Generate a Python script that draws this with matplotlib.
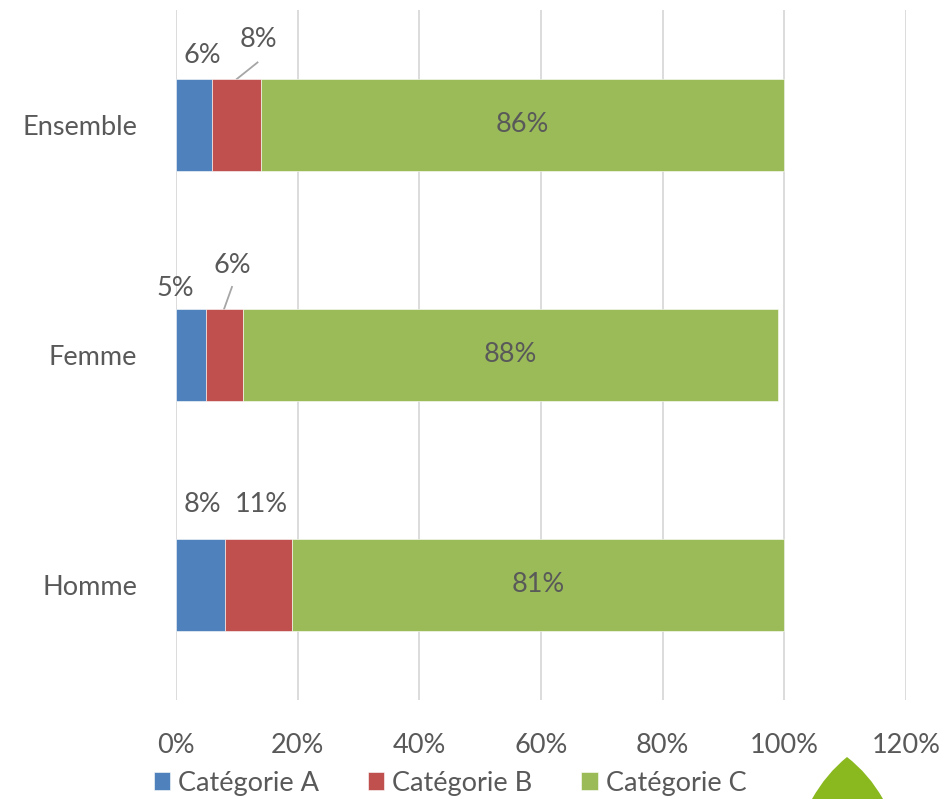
import matplotlib
matplotlib.use('Agg')
import matplotlib.pyplot as plt
import numpy as np
from matplotlib.patches import PathPatch
from matplotlib.path import Path

plt.rcParams['font.family'] = ['Lato', 'DejaVu Sans']

groups = ['Homme', 'Femme', 'Ensemble']
series = ['Catégorie A', 'Catégorie B', 'Catégorie C']
cat_a = [8, 5, 6]
cat_b = [11, 6, 8]
cat_c = [81, 88, 86]
colors = ['#4f81bd', '#c0504d', '#9bbb59']
xticks = [0, 20, 40, 60, 80, 100, 120]

TEXT = '#595959'
fs = 19.5

fig = plt.figure(figsize=(9.45, 7.99), dpi=100)
ax = fig.add_axes([176 / 945, 1 - 700 / 799, 730 / 945, 690 / 799])

y = np.arange(len(groups))
left = np.zeros(len(groups))
bars = []
for vals, name, col in zip([cat_a, cat_b, cat_c], series, colors):
    b = ax.barh(y, vals, left=left, height=0.4, color=col, label=name,
                edgecolor='white', linewidth=0.4, zorder=3)
    bars.append(b)
    left = left + np.array(vals)

ax.set_xlim(0, 120)
ax.set_ylim(-0.5, 2.5)
ax.set_xticks(xticks)
ax.set_xticklabels([f'{t}%' for t in xticks])
ax.set_yticks(y)
ax.set_yticklabels(groups)
ax.tick_params(axis='x', length=0, pad=24, labelsize=fs, labelcolor=TEXT)
ax.tick_params(axis='y', length=0, pad=28, labelsize=fs, labelcolor=TEXT)
ax.grid(axis='x', color='#d9d9d9', linewidth=1.3, zorder=0)
for s in ax.spines.values():
    s.set_visible(False)

# green share written inside the bar
for i in range(len(groups)):
    ax.text(cat_a[i] + cat_b[i] + cat_c[i] / 2, y[i], f'{cat_c[i]}%',
            ha='center', va='center', fontsize=fs, color=TEXT, zorder=4)

# small shares written above the bars, some with leader lines
top = y + 0.2
lead = dict(color='#a6a6a6', lw=1.3)
# Ensemble
ax.text(4.4, top[2] + 0.10, f'{cat_a[2]}%', ha='center', va='center',
        fontsize=fs, color=TEXT)
ax.text(13.5, top[2] + 0.17, f'{cat_b[2]}%', ha='center', va='center',
        fontsize=fs, color=TEXT)
ax.plot([10, 13.4], [top[2], top[2] + 0.072], **lead)
# Femme
ax.text(-0.2, top[1] + 0.087, f'{cat_a[1]}%', ha='center', va='center',
        fontsize=fs, color=TEXT)
ax.text(9.3, top[1] + 0.19, f'{cat_b[1]}%', ha='center', va='center',
        fontsize=fs, color=TEXT)
ax.plot([7.9, 9.2], [top[1], top[1] + 0.096], **lead)
# Homme
ax.text(4.4, top[0] + 0.148, f'{cat_a[0]}%', ha='center', va='center',
        fontsize=fs, color=TEXT)
ax.text(14.0, top[0] + 0.148, f'{cat_b[0]}%', ha='center', va='center',
        fontsize=fs, color=TEXT)

leg = fig.legend(handles=bars, labels=series, loc='center',
                 bbox_to_anchor=(450 / 945, 1 - 783 / 799), ncol=3, frameon=False,
                 fontsize=fs, handlelength=0.6, handleheight=0.6,
                 handletextpad=0.3, columnspacing=1.8, borderpad=0)
for t in leg.get_texts():
    t.set_color(TEXT)

# leaf emblem in the corner
W, H = 945, 799
apex = (847 / W, 1 - 757 / H)
bl = (812 / W, 0.0)
br = (883 / W, 0.0)
verts = [bl, (826 / W, 1 - 774 / H), apex, (869 / W, 1 - 774 / H), br, bl]
codes = [Path.MOVETO, Path.CURVE3, Path.CURVE3, Path.CURVE3, Path.CURVE3, Path.CLOSEPOLY]
leaf = PathPatch(Path(verts, codes), transform=fig.transFigure,
                 facecolor='#8ab81f', edgecolor='none')
fig.patches.append(leaf)

fig.savefig('out.png', dpi=100)
